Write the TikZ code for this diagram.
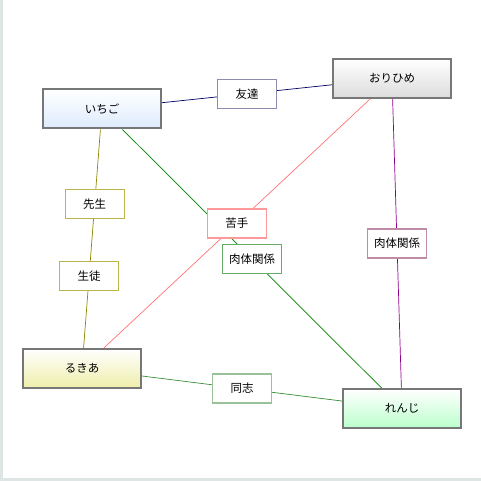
\documentclass[tikz,border=0pt]{standalone}
\usepackage{fontspec}
\newfontfamily\jpfont{Noto Sans CJK JP}
\definecolor{frame}{HTML}{DFE5E5}
\definecolor{boxline}{HTML}{777777}
\definecolor{ichigofill}{HTML}{DDEBFD}
\definecolor{orihimefill}{HTML}{DCDCDC}
\definecolor{rukiafill}{HTML}{EEEEAA}
\definecolor{renjifill}{HTML}{BBFFCC}
\begin{document}
\begin{tikzpicture}[
x=1pt, y=-1pt,
person/.style={
  rectangle,
  draw=boxline,
  line width=2pt,
  top color=white,
  minimum width=118pt,
  minimum height=39pt,
  inner sep=0pt,
  font=\jpfont\fontsize{11.5}{13}\selectfont
},
tag/.style={
  rectangle,
  fill=white,
  text=black,
  line width=1.3pt,
  minimum width=59pt,
  minimum height=29pt,
  inner sep=0pt,
  font=\jpfont\fontsize{11.5}{13}\selectfont
},
link/.style={line width=0.7pt}
]
\useasboundingbox (0,0) rectangle (481,481);
\fill [frame] (0,0) rectangle (2.5,481);
\fill [frame] (0,478) rectangle (481,481);

\node (ichigo)  at (102,109)   [person,bottom color=ichigofill] {いちご};
\node (orihime) at (392,78.5)  [person,bottom color=orihimefill] {おりひめ};
\node (rukia)   at (82,368.5)  [person,bottom color=rukiafill] {るきあ};
\node (renji)   at (402,408.5) [person,bottom color=renjifill] {れんじ};

\draw [link,blue!40!black] (ichigo) to node [tag,draw=blue!30!black!45] (tomodachi) {友達} (orihime);
\draw [link,olive] (ichigo) to node [tag,draw=olive!60,pos=0.34] (sensei) {先生}
  node [tag,draw=olive!60,pos=0.67] (seito) {生徒} (rukia);
\draw [link,green!50!black] (ichigo) to node [tag,draw=green!45!black!60] (nikutai1) {肉体関係} (renji);
\draw [link,red!55] (orihime) to node [tag,draw=red!40] (nigate) {苦手} (rukia);
\draw [link,violet!70!magenta!85!black] (orihime) to node [tag,draw=magenta!50!black!55] (nikutai2) {肉体関係} (renji);
\draw [link,green!45!black!80] (rukia) to node [tag,draw=green!40!black!40] (doushi) {同志} (renji);

\end{tikzpicture}
\end{document}
